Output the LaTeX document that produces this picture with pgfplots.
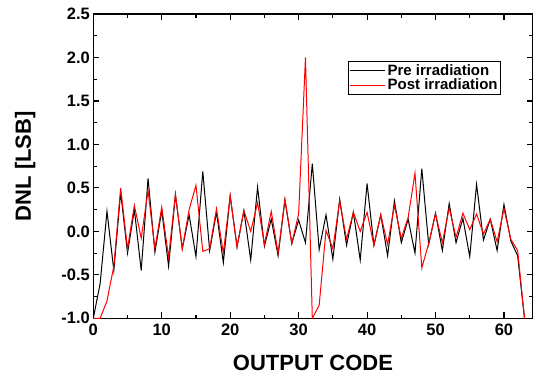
\documentclass[border=0pt]{standalone}
\usepackage{fontspec}
\setmainfont{Liberation Sans}
\usepackage{pgfplots}
\pgfplotsset{compat=1.18}
\pgfplotstableread{
x y
0 -1.0
1 -0.6
2 0.23
3 -0.45
4 0.45
5 -0.25
6 0.25
7 -0.45
8 0.61
9 -0.24
10 0.24
11 -0.4
12 0.42
13 -0.2
14 0.19
15 -0.29
16 0.69
17 -0.22
18 0.22
19 -0.36
20 0.41
21 -0.18
22 0.24
23 -0.33
24 0.51
25 -0.17
26 0.14
27 -0.28
28 0.36
29 -0.14
30 0.13
31 -0.13
32 0.78
33 -0.21
34 0.19
35 -0.32
36 0.37
37 -0.16
38 0.22
39 -0.33
40 0.55
41 -0.16
42 0.19
43 -0.28
44 0.35
45 -0.13
46 0.14
47 -0.25
48 0.72
49 -0.15
50 0.21
51 -0.22
52 0.32
53 -0.13
54 0.15
55 -0.29
56 0.54
57 -0.10
58 0.14
59 -0.22
60 0.31
61 -0.11
62 -0.28
63 -1.0
}\pre
\pgfplotstableread{
x y
0 -1.0
1 -1.0
2 -0.8
3 -0.4
4 0.5
5 -0.2
6 0.3
7 -0.08
8 0.47
9 -0.2
10 0.28
11 -0.3
12 0.43
13 -0.2
14 0.25
15 0.53
16 -0.23
17 -0.2
18 0.26
19 -0.25
20 0.41
21 -0.18
22 0.24
23 0.0
24 0.33
25 -0.15
26 0.23
27 -0.25
28 0.37
29 -0.14
30 0.2
31 2.0
32 -1.0
33 -0.85
34 0.01
35 -0.2
36 0.35
37 -0.09
38 0.22
39 0.0
40 0.22
41 -0.16
42 0.19
43 -0.15
44 0.3
45 -0.08
46 0.16
47 0.67
48 -0.42
49 -0.14
50 0.2
51 -0.13
52 0.27
53 -0.07
54 0.21
55 0.02
56 0.2
57 -0.03
58 0.14
59 -0.12
60 0.26
61 -0.09
62 -0.22
63 -1.0
}\post
\begin{document}
\begin{tikzpicture}
\begin{axis}[
  scale only axis,
  width=439.4pt, height=304.3pt,
  xmin=0, xmax=64.2, ymin=-1.0, ymax=2.5,
  xtick={0,10,...,60}, ytick={-1.0,-0.5,...,2.5},
  minor x tick num=1, minor y tick num=1,
  tick align=inside,
  xtick pos=both, ytick pos=both,
  xticklabel pos=left, yticklabel pos=left,
  major tick length=6pt, minor tick length=3.5pt,
  axis line style={line width=1.3pt},
  every tick/.style={black, line width=1.1pt},
  xticklabel={\pgfmathprintnumber[assume math mode=true]{\tick}},
  yticklabel={\pgfmathprintnumber[fixed,fixed zerofill,precision=1,assume math mode=true]{\tick}},
  tick label style={font=\fontsize{16.5}{18}\selectfont\bfseries},
  xticklabel style={yshift=-2pt},
  xlabel={OUTPUT CODE}, ylabel={DNL [LSB]},
  label style={font=\fontsize{22}{24}\selectfont\bfseries},
  xlabel style={yshift=-13pt},
  ylabel style={yshift=19pt},
  legend style={at={(0.58,0.845)}, anchor=north west, draw=black, line width=0.9pt,
    font=\fontsize{15}{17}\selectfont\bfseries, inner sep=1pt, row sep=-2pt,
    legend cell align=left},
  legend image code/.code={\draw[#1, line width=1pt] (0pt,0pt) -- (35pt,0pt);},
]
\addplot[black, line width=1pt] table[x=x,y=y] {\pre};
\addlegendentry{Pre irradiation}
\addplot[red, line width=1pt] table[x=x,y=y] {\post};
\addlegendentry{Post irradiation}
\end{axis}
\path (current axis.south west) ++(-93.3pt,-57.7pt) rectangle ++(537pt,376pt);
\end{tikzpicture}
\end{document}
